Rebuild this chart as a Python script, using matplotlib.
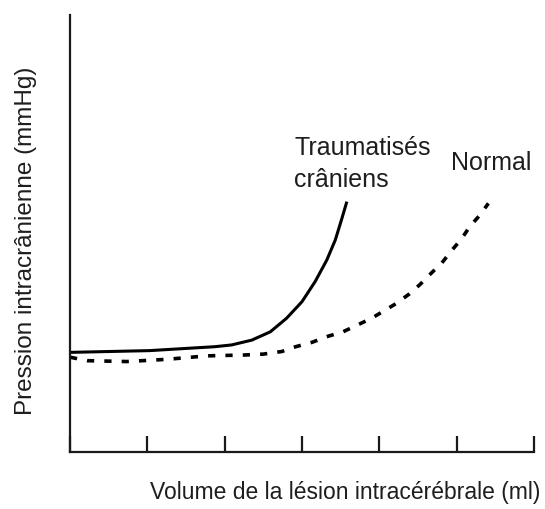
import matplotlib.pyplot as plt

plt.rcParams['font.family'] = ['Liberation Sans', 'DejaVu Sans']

# volume (tick units) and pressure (arbitrary units, 0-100 = axis height)
trauma_x = [0, 0.52, 1.03, 1.875, 2.09, 2.35, 2.59, 2.8, 3.0, 3.17, 3.32, 3.43, 3.51, 3.58]
trauma_y = [22.8, 23.0, 23.2, 24.1, 24.5, 25.6, 27.5, 30.6, 34.4, 39.0, 43.9, 48.5, 53.1, 57.3]

normal_x = [0, 0.22, 0.73, 1.25, 1.77, 2.26, 2.5, 2.74, 2.92, 3.13, 3.32, 3.53,
            3.72, 3.9, 4.06, 4.22, 4.39, 4.53, 4.67, 4.81, 4.93, 5.06, 5.17, 5.3, 5.41]
normal_y = [21.7, 20.9, 20.7, 21.2, 22.0, 22.2, 22.4, 23.0, 24.1, 25.1, 26.4, 27.5,
            29.1, 30.6, 32.3, 34.0, 36.2, 38.4, 40.9, 43.3, 46.0, 48.7, 51.6, 54.2, 56.9]

x_ticks = [0, 1, 2, 3, 4, 5, 6]

fig = plt.figure(figsize=(5.45, 5.09), dpi=100)
ax = fig.add_axes([70 / 545, 57 / 509, 464 / 545, 437 / 509])

ax.plot(trauma_x, trauma_y, color='black', lw=2.2, solid_capstyle='butt',
        solid_joinstyle='round')
ax.plot(normal_x, normal_y, color='black', lw=2.6, linestyle=(0, (2.0, 2.8)))

ax.set_xlim(0, 6)
ax.set_ylim(0, 100)
ax.set_xticks(x_ticks)
ax.set_xticklabels([])
ax.set_yticks([])
ax.tick_params(axis='x', direction='in', length=11.5, width=1.6, color='#1a1a1a')
for side in ['top', 'right']:
    ax.spines[side].set_visible(False)
for side in ['left', 'bottom']:
    ax.spines[side].set_linewidth(1.6)
    ax.spines[side].set_color('#1a1a1a')

txt = '#1e1e1e'
ax.text(2.90, 72.4, 'Traumatisés\ncrâniens', ha='left', va='top', fontsize=18,
        color=txt, linespacing=1.45)
ax.text(4.93, 68.8, 'Normal', ha='left', va='top', fontsize=18, color=txt)

fig.text(26 / 545, (509 - 241) / 509, 'Pression intracrânienne (mmHg)', rotation=90,
         ha='center', va='center', fontsize=17.5, color=txt)
fig.text(345.5 / 545, (509 - 492) / 509, 'Volume de la lésion intracérébrale (ml)',
         ha='center', va='center', fontsize=16.5, color=txt)

fig.savefig('out.png', dpi=100)
